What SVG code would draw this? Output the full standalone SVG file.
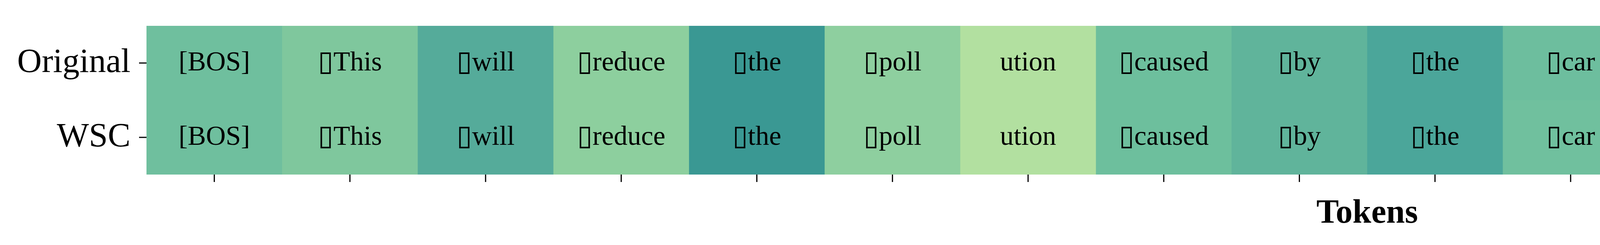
<svg xmlns="http://www.w3.org/2000/svg" width="6977" height="626" viewBox="0 0 6977 626">
<style>
text{font-family:"Liberation Serif","Times New Roman",serif;fill:#000}
.t{font-size:70px;text-anchor:middle}
.g{font-family:"DejaVu Sans",sans-serif;font-size:72px}
.yl{font-size:87px;text-anchor:end}
.cb{font-size:77px}
.xl{font-size:86px;font-weight:bold;text-anchor:middle}
.tick{stroke:#000;stroke-width:3}
</style>
<defs>
<linearGradient id="cmap" x1="0" y1="0" x2="0" y2="1">
<stop offset="0" stop-color="#20707b"/>
<stop offset="0.2" stop-color="#237c85"/>
<stop offset="0.35" stop-color="#3a9792"/>
<stop offset="0.45" stop-color="#5aaf9b"/>
<stop offset="0.55" stop-color="#83c99c"/>
<stop offset="0.65" stop-color="#aedc9e"/>
<stop offset="0.73" stop-color="#d6eda0"/>
<stop offset="0.79" stop-color="#fdf9a6"/>
<stop offset="0.9" stop-color="#fdcf88"/>
<stop offset="1" stop-color="#f7a46a"/>
</linearGradient>
</defs>
<rect width="6977" height="626" fill="#fff"/>
<g id="heatmap">
<g id="cell-0"><rect x="375" y="66" width="348" height="191" fill="#6fbf9e"/><rect x="375" y="256" width="348" height="190" fill="#6fbf9e"/><text class="t" x="548.6" y="180">[BOS]</text><text class="t" x="548.6" y="370">[BOS]</text></g>
<g id="cell-1"><rect x="722.2" y="66" width="348" height="191" fill="#7fc79d"/><rect x="722.2" y="256" width="348" height="190" fill="#7fc79d"/><text class="t" x="895.8" y="180"><tspan class="g">▯</tspan>This</text><text class="t" x="895.8" y="370"><tspan class="g">▯</tspan>This</text></g>
<g id="cell-2"><rect x="1069.4" y="66" width="348" height="191" fill="#55ab9a"/><rect x="1069.4" y="256" width="348" height="190" fill="#55ab9a"/><text class="t" x="1243.1" y="180"><tspan class="g">▯</tspan>will</text><text class="t" x="1243.1" y="370"><tspan class="g">▯</tspan>will</text></g>
<g id="cell-3"><rect x="1416.7" y="66" width="348" height="191" fill="#8dcf9e"/><rect x="1416.7" y="256" width="348" height="190" fill="#8dcf9e"/><text class="t" x="1590.3" y="180"><tspan class="g">▯</tspan>reduce</text><text class="t" x="1590.3" y="370"><tspan class="g">▯</tspan>reduce</text></g>
<g id="cell-4"><rect x="1763.9" y="66" width="348" height="191" fill="#3a9893"/><rect x="1763.9" y="256" width="348" height="190" fill="#3a9893"/><text class="t" x="1937.5" y="180"><tspan class="g">▯</tspan>the</text><text class="t" x="1937.5" y="370"><tspan class="g">▯</tspan>the</text></g>
<g id="cell-5"><rect x="2111.1" y="66" width="348" height="191" fill="#8ecf9f"/><rect x="2111.1" y="256" width="348" height="190" fill="#8ecf9f"/><text class="t" x="2284.7" y="180"><tspan class="g">▯</tspan>poll</text><text class="t" x="2284.7" y="370"><tspan class="g">▯</tspan>poll</text></g>
<g id="cell-6"><rect x="2458.3" y="66" width="348" height="191" fill="#b2e0a0"/><rect x="2458.3" y="256" width="348" height="190" fill="#b2e0a0"/><text class="t" x="2631.9" y="180">ution</text><text class="t" x="2631.9" y="370">ution</text></g>
<g id="cell-7"><rect x="2805.6" y="66" width="348" height="191" fill="#6dbf9d"/><rect x="2805.6" y="256" width="348" height="190" fill="#6dbf9d"/><text class="t" x="2979.2" y="180"><tspan class="g">▯</tspan>caused</text><text class="t" x="2979.2" y="370"><tspan class="g">▯</tspan>caused</text></g>
<g id="cell-8"><rect x="3152.8" y="66" width="348" height="191" fill="#60b49b"/><rect x="3152.8" y="256" width="348" height="190" fill="#60b49b"/><text class="t" x="3326.4" y="180"><tspan class="g">▯</tspan>by</text><text class="t" x="3326.4" y="370"><tspan class="g">▯</tspan>by</text></g>
<g id="cell-9"><rect x="3500" y="66" width="348" height="191" fill="#4ba69a"/><rect x="3500" y="256" width="348" height="190" fill="#4ba69a"/><text class="t" x="3673.6" y="180"><tspan class="g">▯</tspan>the</text><text class="t" x="3673.6" y="370"><tspan class="g">▯</tspan>the</text></g>
<g id="cell-10"><rect x="3847.2" y="66" width="348" height="191" fill="#6dbe9e"/><rect x="3847.2" y="256" width="348" height="190" fill="#70c09e"/><text class="t" x="4020.8" y="180"><tspan class="g">▯</tspan>car</text><text class="t" x="4020.8" y="370"><tspan class="g">▯</tspan>car</text></g>
<g id="cell-11"><rect x="4194.4" y="66" width="348" height="191" fill="#f5a26a"/><rect x="4194.4" y="256" width="348" height="190" fill="#4fa99a"/><text class="t" x="4368.1" y="180">b</text><text class="t" x="4368.1" y="370"><tspan class="g">▯</tspan>b</text></g>
<g id="cell-12"><rect x="4541.7" y="66" width="348" height="191" fill="#a3d99e"/><rect x="4541.7" y="256" width="348" height="190" fill="#a0d69c"/><text class="t" x="4715.3" y="180">ones</text><text class="t" x="4715.3" y="370">ones</text></g>
<g id="cell-13"><rect x="4888.9" y="66" width="348" height="191" fill="#5fb39b"/><rect x="4888.9" y="256" width="348" height="190" fill="#409c94"/><text class="t" x="5062.5" y="180"><tspan class="g">▯</tspan>from</text><text class="t" x="5062.5" y="370"><tspan class="g">▯</tspan>from</text></g>
<g id="cell-14"><rect x="5236.1" y="66" width="348" height="191" fill="#328c8e"/><rect x="5236.1" y="256" width="348" height="190" fill="#338f8e"/><text class="t" x="5409.7" y="180"><tspan class="g">▯</tspan>the</text><text class="t" x="5409.7" y="370"><tspan class="g">▯</tspan>the</text></g>
<g id="cell-15"><rect x="5583.3" y="66" width="348" height="191" fill="#46a496"/><rect x="5583.3" y="256" width="348" height="190" fill="#338d8e"/><text class="t" x="5756.9" y="180"><tspan class="g">▯</tspan>cars</text><text class="t" x="5756.9" y="370"><tspan class="g">▯</tspan>cars</text></g>
<g id="cell-16"><rect x="5930.6" y="66" width="348" height="191" fill="#237a84"/><rect x="5930.6" y="256" width="348" height="190" fill="#3b9792"/><text class="t" x="6104.2" y="180"><tspan class="g">▯</tspan>.</text><text class="t" x="6104.2" y="370">.</text></g>
<g id="cell-17"><rect x="6277.8" y="66" width="347.2" height="191" fill="#20717c"/><rect x="6277.8" y="256" width="347.2" height="190" fill="#20717c"/><text class="t" x="6451.4" y="180">[EOS]</text><text class="t" x="6451.4" y="370">[EOS]</text></g>
</g>
<g id="axes">
<line class="tick" x1="356" y1="161" x2="375" y2="161"/>
<line class="tick" x1="356" y1="351" x2="375" y2="351"/>
<text class="yl" x="334" y="184">Original</text>
<text class="yl" x="334" y="374">WSC</text>
<g id="xticks">
<line class="tick" x1="548.6" y1="446" x2="548.6" y2="465"/>
<line class="tick" x1="895.8" y1="446" x2="895.8" y2="465"/>
<line class="tick" x1="1243.1" y1="446" x2="1243.1" y2="465"/>
<line class="tick" x1="1590.3" y1="446" x2="1590.3" y2="465"/>
<line class="tick" x1="1937.5" y1="446" x2="1937.5" y2="465"/>
<line class="tick" x1="2284.7" y1="446" x2="2284.7" y2="465"/>
<line class="tick" x1="2631.9" y1="446" x2="2631.9" y2="465"/>
<line class="tick" x1="2979.2" y1="446" x2="2979.2" y2="465"/>
<line class="tick" x1="3326.4" y1="446" x2="3326.4" y2="465"/>
<line class="tick" x1="3673.6" y1="446" x2="3673.6" y2="465"/>
<line class="tick" x1="4020.8" y1="446" x2="4020.8" y2="465"/>
<line class="tick" x1="4368.1" y1="446" x2="4368.1" y2="465"/>
<line class="tick" x1="4715.3" y1="446" x2="4715.3" y2="465"/>
<line class="tick" x1="5062.5" y1="446" x2="5062.5" y2="465"/>
<line class="tick" x1="5409.7" y1="446" x2="5409.7" y2="465"/>
<line class="tick" x1="5756.9" y1="446" x2="5756.9" y2="465"/>
<line class="tick" x1="6104.2" y1="446" x2="6104.2" y2="465"/>
<line class="tick" x1="6451.4" y1="446" x2="6451.4" y2="465"/>
</g>
<text class="xl" x="3500" y="569">Tokens</text>
</g>
<g id="colorbar">
<rect x="6699" y="66" width="64" height="380" fill="url(#cmap)"/>
<text class="cb" x="6782" y="95">High</text>
<text class="cb" x="6782" y="474">Low</text>
</g>
</svg>
